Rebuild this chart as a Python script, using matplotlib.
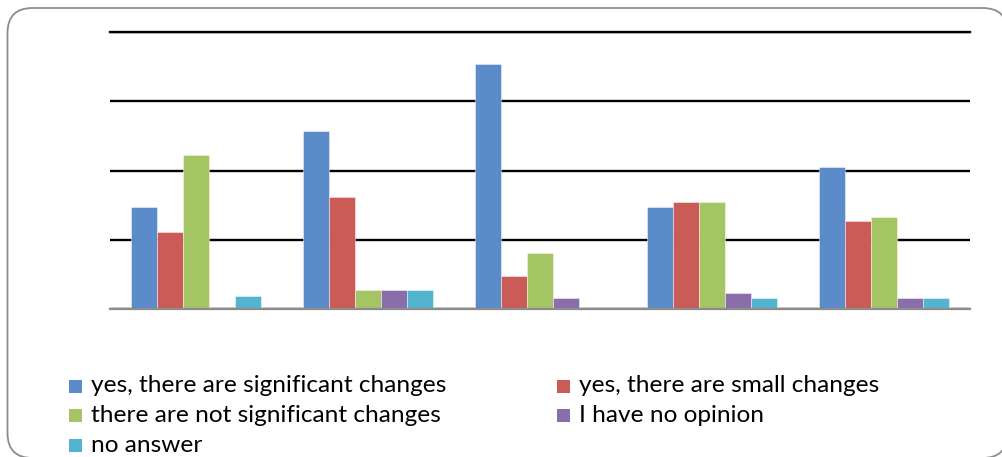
import matplotlib
matplotlib.use("Agg")
import matplotlib.pyplot as plt
from matplotlib.patches import FancyBboxPatch, Rectangle
import numpy as np

# Survey answers per question group (percent of respondents)
categories = ["Q1", "Q2", "Q3", "Q4", "Q5"]
series_names = [
    "yes, there are significant changes",
    "yes, there are small changes",
    "there are not significant changes",
    "I have no opinion",
    "no answer",
]
significant = [29.6, 51.4, 70.8, 29.5, 41.0]
small = [22.2, 32.3, 9.5, 31.0, 25.3]
not_significant = [44.4, 5.4, 16.1, 31.0, 26.6]
no_opinion = [0.0, 5.4, 3.2, 4.6, 3.2]
no_answer = [3.7, 5.4, 0.0, 3.2, 3.2]
y_ticks = [0, 20, 40, 60, 80]

series_values = [significant, small, not_significant, no_opinion, no_answer]
colors = ["#5B8BC9", "#CB5B56", "#A5C463", "#8A6EAC", "#52B4CF"]

W, H, DPI = 1002, 457, 100
fig = plt.figure(figsize=(W / DPI, H / DPI), dpi=DPI)
fig.patch.set_facecolor("white")

# Overlay in pixel coordinates for the rounded frame and the legend
over = fig.add_axes([0, 0, 1, 1], zorder=0)
over.set_xlim(0, W)
over.set_ylim(H, 0)
over.axis("off")
frame = FancyBboxPatch((7.5, 8), 1000, 450,
                       boxstyle="round,pad=0,rounding_size=25",
                       facecolor="white", edgecolor="#8C8C8C", linewidth=1.3)
over.add_patch(frame)

# Plot area
left, right = 110 / W, 970 / W
bottom, top = 1 - 309 / H, 1 - 32.3 / H
ax = fig.add_axes([left, bottom, right - left, top - bottom], zorder=1)
ax.patch.set_alpha(0)

x = np.arange(len(categories))
bar_w = 26 / 172
n = len(series_values)
for i, (vals, col) in enumerate(zip(series_values, colors)):
    offs = (i - (n - 1) / 2) * bar_w
    ax.bar(x + offs, vals, width=bar_w, color=col, edgecolor=(1, 1, 1, 0.45),
           linewidth=0.7, zorder=3)

ax.set_xlim(-0.5, len(categories) - 0.5)
ax.set_ylim(y_ticks[0], y_ticks[-1])
ax.set_yticks(y_ticks)
ax.set_xticks([])
ax.tick_params(axis="y", length=0, labelleft=False)
ax.grid(axis="y", color="black", linewidth=1.7, zorder=0)
ax.set_axisbelow(True)
for s in ["left", "right", "top"]:
    ax.spines[s].set_visible(False)
ax.spines["bottom"].set_color("#8C8C8C")
ax.spines["bottom"].set_linewidth(1.6)
ax.spines["bottom"].set_zorder(4)
# top gridline is the upper plot edge; keep it fully visible
ax.axhline(y_ticks[-1], color="black", linewidth=1.7, clip_on=False, zorder=0)

# Legend laid out row by row in two columns
col_x = [69, 557]
row_y = [386, 415.5, 445]
sq = 13
for k, (name, col) in enumerate(zip(series_names, colors)):
    r, c = divmod(k, 2)
    cx, cy = col_x[c], row_y[r]
    over.add_patch(Rectangle((cx, cy - sq / 2), sq, sq, facecolor=col,
                             edgecolor="none"))
    over.text(cx + 22, cy + 6.5, name, fontsize=17.6, family="Lato",
              color="black", va="baseline", ha="left")

fig.savefig("out.png", dpi=DPI, facecolor="white")
